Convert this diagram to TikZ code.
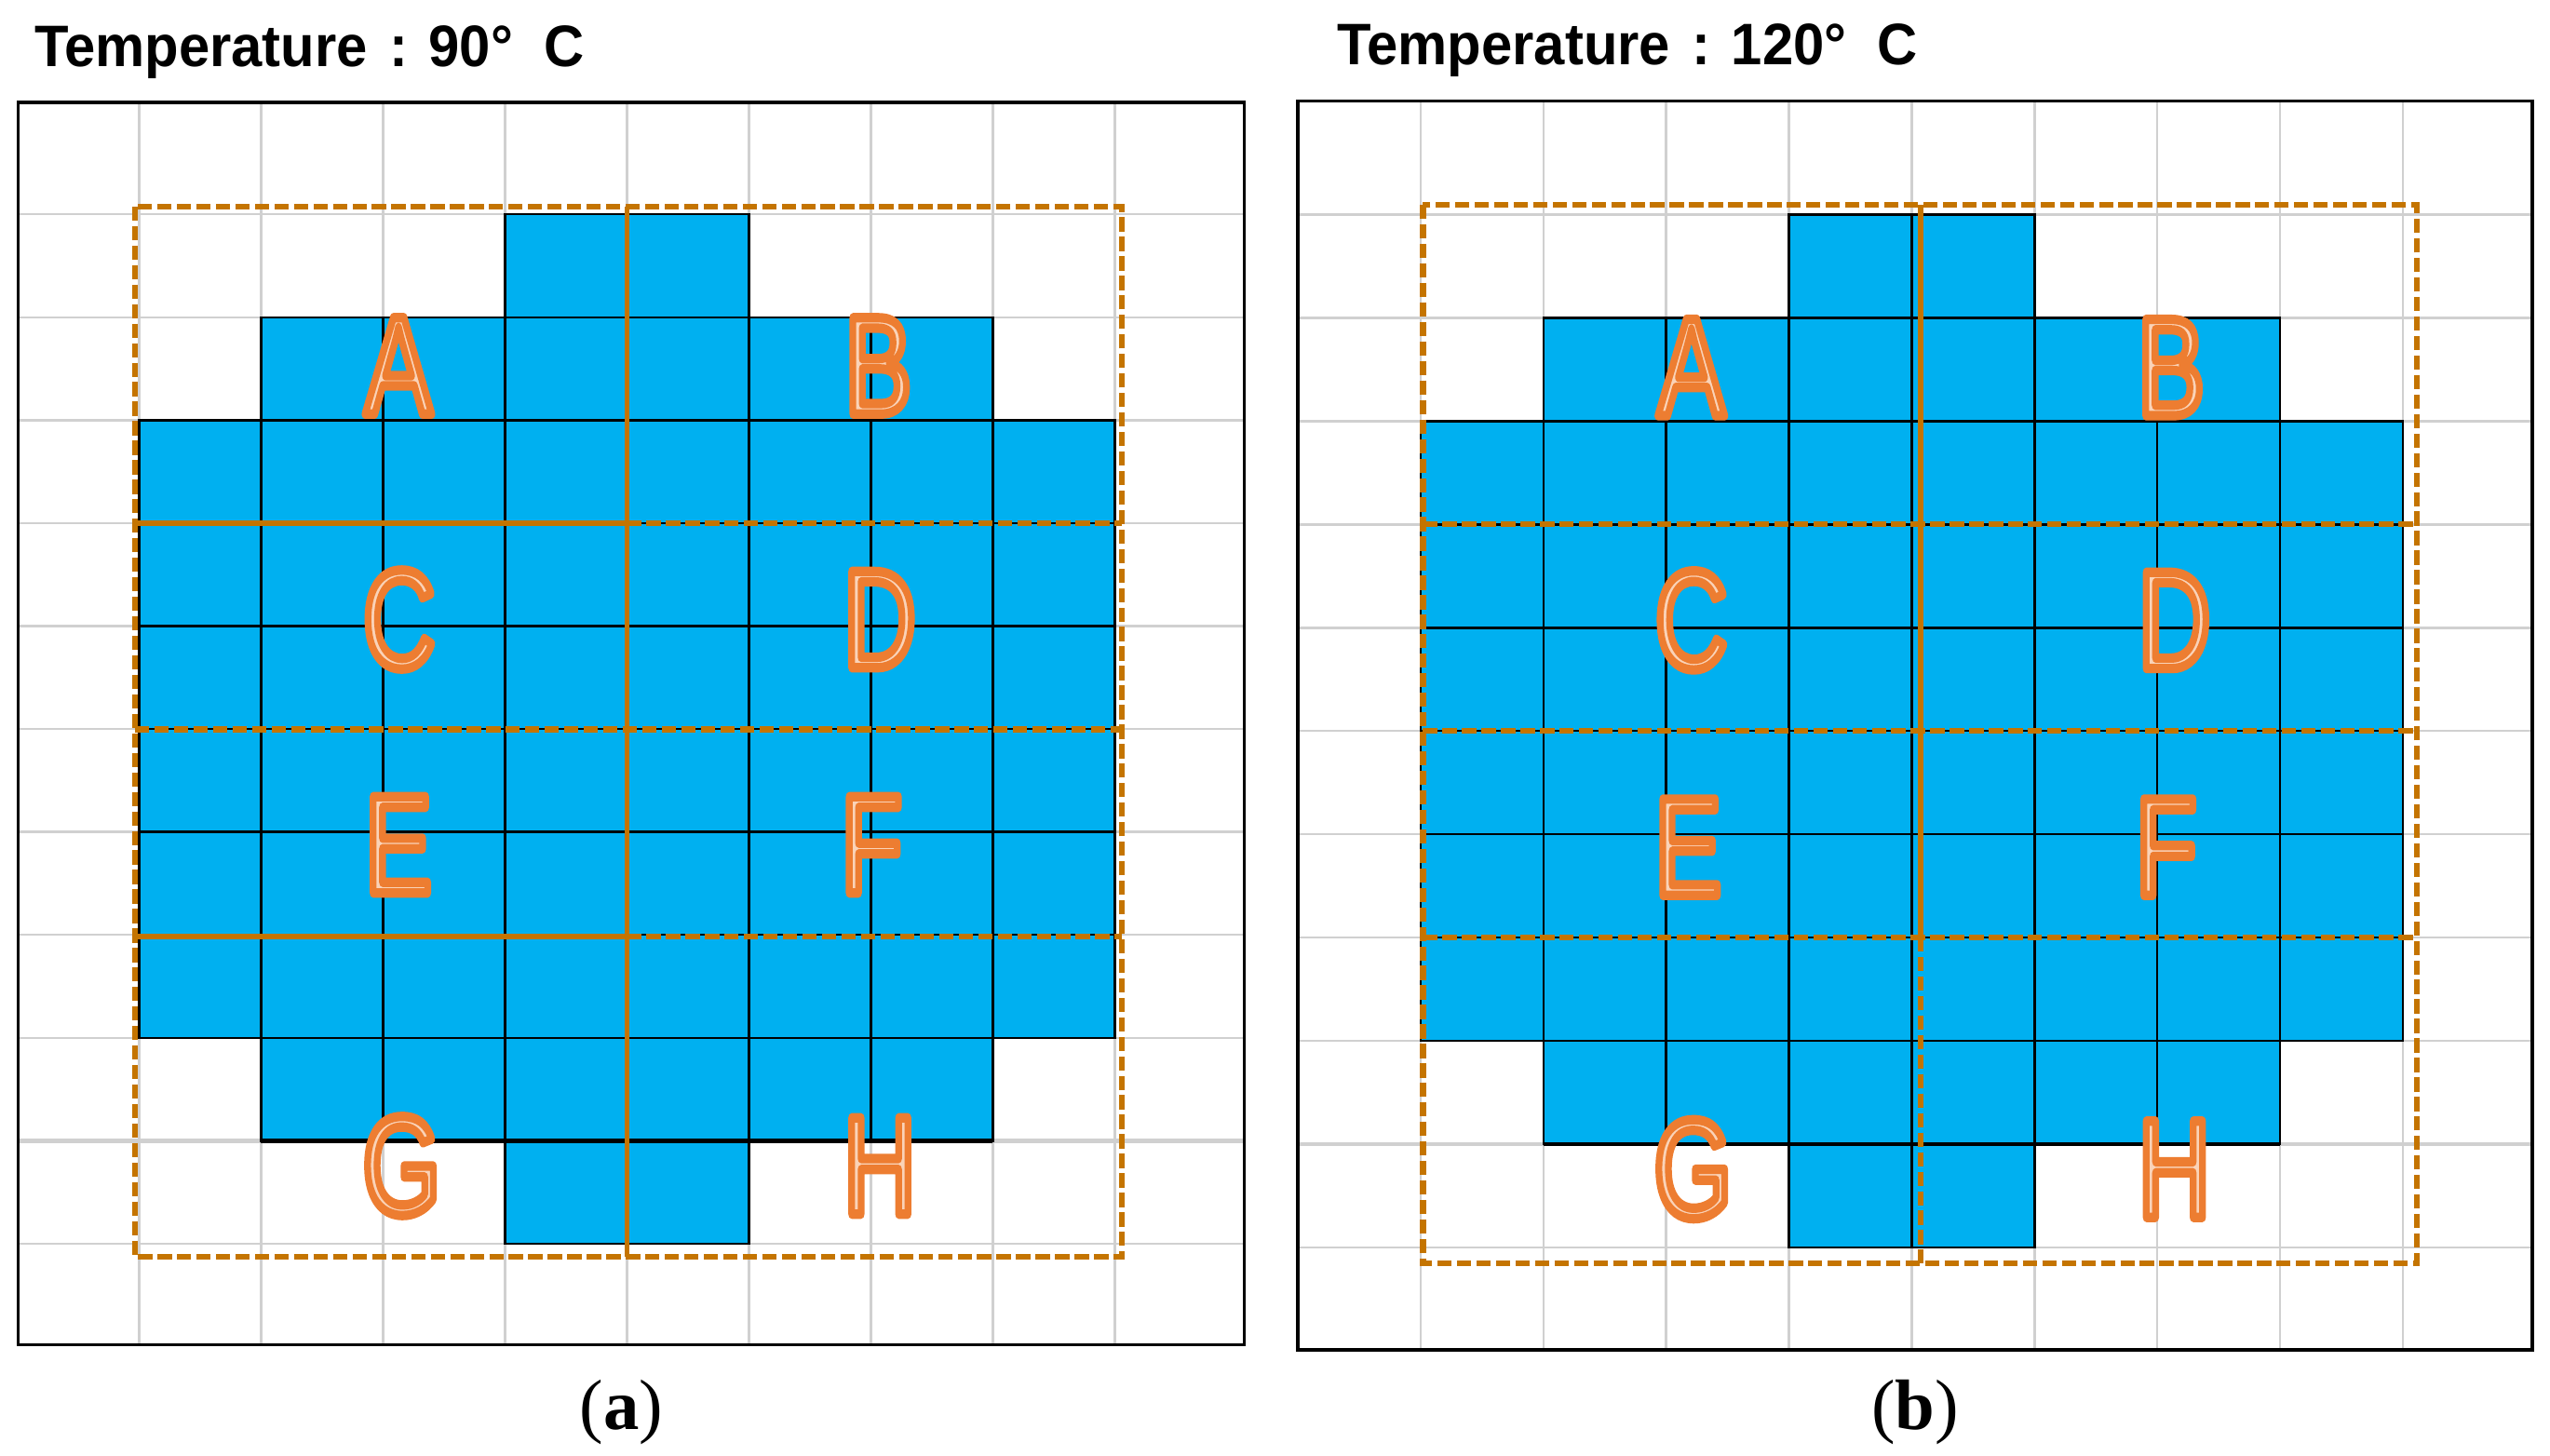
\documentclass[tikz,border=0pt]{standalone}
\usepackage{fontspec}
\usepackage{graphicx}
\setmainfont{Liberation Serif}
\newfontfamily\titlefont{Liberation Sans}
\newfontfamily\letterfont{Liberation Sans}

\definecolor{cellblue}{HTML}{00B0F0}
\definecolor{gridgray}{HTML}{D0D0D0}
\definecolor{lineorange}{HTML}{C47400}
\definecolor{letterorange}{HTML}{ED7D31}
\definecolor{letterpeach}{HTML}{FAD3B8}

\tikzset{
  gridline/.style={draw=gridgray, line width=0.8pt},
  cellbox/.style={fill=cellblue, draw=black, line width=0.8pt},
  frameline/.style={draw=black, line width=1.1pt},
  osolid/.style={draw=lineorange, line width=1.8pt},
  odashed/.style={draw=lineorange, line width=2pt, dash pattern=on 0.175cm off 0.065cm},
  letterbox/.style={inner sep=0pt, font=\letterfont\fontsize{49pt}{49pt}\selectfont},
  titlebox/.style={inner sep=0pt, anchor=base west, font=\titlefont\bfseries\fontsize{20.5pt}{24pt}\selectfont},
  capbox/.style={inner sep=0pt, anchor=base, font=\fontsize{25pt}{30pt}\selectfont},
}

\newcommand\fancyletter[1]{\scalebox{0.72}[1]{\color{letterpeach}\special{pdf:literal direct 0.929 0.490 0.192 RG 2 Tr 3.3 w 1 j}#1\special{pdf:literal direct 0 Tr}}}

% #1 c0, #2 cw, #3 r0, #4 rh, #5 L, #6 T, #7 R, #8 B
\newcommand\drawpanel[8]{%
  \fill[white] (#5,#6) rectangle (#7,#8);
  \foreach \k in {1,...,9} \draw[gridline] ({#1+#2*\k},#6) -- ({#1+#2*\k},#8);
  \foreach \k in {1,...,11} \draw[gridline] (#5,{#3+#4*\k}) -- (#7,{#3+#4*\k});
  \draw[gridline, line width=1.4pt] (#5,{#3+#4*10}) -- (#7,{#3+#4*10});
  \foreach \r/\a/\b in {1/4/5,2/2/7,3/1/8,4/1/8,5/1/8,6/1/8,7/1/8,8/1/8,9/2/7,10/4/5}
    \foreach \c in {\a,...,\b}
      \draw[cellbox] ({#1+#2*\c},{#3+#4*\r}) rectangle ++(#2,#4);
  \draw[black, line width=1.4pt] ({#1+#2*2},{#3+#4*10}) -- ({#1+#2*8},{#3+#4*10});
  \draw[frameline] (#5,#6) rectangle (#7,#8);
}

\begin{document}
\begin{tikzpicture}[x=0.02cm, y=-0.02cm]
  \useasboundingbox (0,0) rectangle (1568,895.3);
  \fill[white] (0,0) rectangle (1568,895.3);

  % panel (a)
  \drawpanel{10.5}{75}{68.5}{63.3}{11}{63}{765}{827}
  \draw[odashed] (83,127) rectangle (690,773);
  \draw[osolid] (385.5,127) -- (385.5,773);
  \draw[osolid] (83,321.7) -- (385.5,321.7);
  \draw[odashed] (385.5,321.7) -- (690,321.7);
  \draw[odashed] (83,448.5) -- (690,448.5);
  \draw[osolid] (83,576) -- (385.5,576);
  \draw[odashed] (385.5,576) -- (690,576);

  % panel (b)
  \drawpanel{798}{75.5}{68.5}{63.5}{798}{62}{1557}{830}
  \draw[odashed] (875,126) rectangle (1486,777);
  \draw[osolid] (1181,126) -- (1181,576.5);
  \draw[odashed] (1181,576.5) -- (1181,777);
  \draw[odashed] (875,322.5) -- (1486,322.5);
  \draw[odashed] (875,449.5) -- (1486,449.5);
  \draw[odashed] (875,576.5) -- (1486,576.5);

  % letters (a)
  \node[letterbox] (aA) at (245,225) {\fancyletter{A}};
  \node[letterbox] (aB) at (540,225) {\fancyletter{B}};
  \node[letterbox] (aC) at (245.5,381) {\fancyletter{C}};
  \node[letterbox] (aD) at (541,381) {\fancyletter{D}};
  \node[letterbox] (aE) at (245,519.5) {\fancyletter{E}};
  \node[letterbox] (aF) at (536,519.5) {\fancyletter{F}};
  \node[letterbox] (aG) at (247,717) {\fancyletter{G}};
  \node[letterbox] (aH) at (541,717) {\fancyletter{H}};

  % letters (b)
  \node[letterbox] (bA) at (1040,226) {\fancyletter{A}};
  \node[letterbox] (bB) at (1335,226) {\fancyletter{B}};
  \node[letterbox] (bC) at (1040,381.5) {\fancyletter{C}};
  \node[letterbox] (bD) at (1337,381.5) {\fancyletter{D}};
  \node[letterbox] (bE) at (1038,521) {\fancyletter{E}};
  \node[letterbox] (bF) at (1332,521) {\fancyletter{F}};
  \node[letterbox] (bG) at (1041,719) {\fancyletter{G}};
  \node[letterbox] (bH) at (1337,719) {\fancyletter{H}};

  % titles
  \node[titlebox] (ta) at (21,41.2) {\scalebox{0.95}[1]{Temperature\hspace{0.12em} : 90°\ \ C}};
  \node[titlebox] (tb) at (822,40) {\scalebox{0.95}[1]{Temperature\hspace{0.12em} : 120°\ \ C}};

  % captions
  \node[capbox] (ca) at (382,879) {(\textbf{a})};
  \node[capbox] (cb) at (1177.6,879) {(\textbf{b})};
\end{tikzpicture}
\end{document}
